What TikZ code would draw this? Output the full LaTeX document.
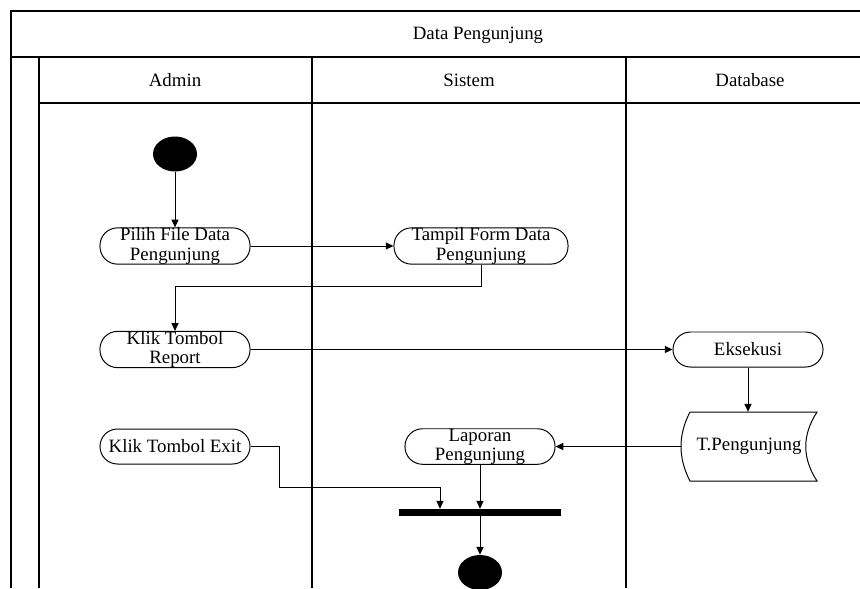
\documentclass[tikz,border=0pt]{standalone}
\usepackage{fontspec}
\setmainfont{Liberation Serif}
\usetikzlibrary{arrows.meta,shapes.geometric}
\tikzset{
    lbl/.style={font=\fontsize{13.4}{13.6}\selectfont, align=center},
    act/.style={lbl, draw, line width=0.7pt, rounded corners=0.4375cm,
        minimum width=3.75cm, minimum height=0.875cm, inner sep=0pt},
    blob/.style={ellipse, fill=black, minimum width=1.1cm, minimum height=0.875cm, inner sep=0pt},
    flow/.style={line width=0.7pt, -{Triangle[length=5.5pt,width=5pt]}},
    lane/.style={line width=1pt}
}
\begin{document}
\begin{tikzpicture}[x=0.025cm,y=-0.025cm]
        \useasboundingbox (0,0) rectangle (860,588);
        % Swimlane frame
        \draw[lane] (860,11) -- (11,11) -- (11,588);
        \draw[line width=2pt] (11,57) -- (860,57);
        \draw[lane] (39,103) -- (860,103);
        \foreach \x in {39,312,626}
        {
            \draw[lane] (\x,57) -- (\x,588);
        }
        \node[lbl] (title) at (478,35) {Data Pengunjung};
        \foreach \x/\lane in {175/Admin,469/Sistem,750/Database}
        {
            \node[lbl] (head\lane) at (\x,80) {\lane};
        }

        % Activities
        \node[blob] (start) at (175,154) {};
        \node[act] (pilih) at (175,246) {Pilih File Data\\Pengunjung};
        \node[act, minimum width=4.35cm] (tampil) at (481,246) {Tampil Form Data\\Pengunjung};
        \node[act] (report) at (175,349.5) {Klik Tombol\\Report};
        \node[act] (eksekusi) at (748,349.5) {Eksekusi};
        \node[act] (exit) at (175,446.5) {Klik Tombol Exit};
        \node[act] (laporan) at (480,446.5) {Laporan\\Pengunjung};
        \node[lbl, minimum width=3.4cm, minimum height=1.725cm, inner sep=0pt] (tabel) at (749,446.5) {T.Pengunjung};
        \draw[line width=0.7pt] (690,412) -- (817,412) .. controls (802,435) and (802,458) .. (817,481)
            -- (690,481) .. controls (678,458) and (678,435) .. (690,412);
        \node[fill=black, minimum width=4.05cm, minimum height=0.175cm, inner sep=0pt] (join) at (480,512.5) {};
        \node[blob] (stop) at (480,572.5) {};

        % Flow
        \draw[flow] (start) -- (pilih);
        \draw[flow] (pilih) -- (tampil);
        \draw[flow] (tampil.south) -- ++(0,22) -| (report.north);
        \draw[flow] (report) -- (eksekusi);
        \draw[flow] (eksekusi) -- (eksekusi |- tabel.north);
        \draw[flow] (tabel.west) -- (laporan.east);
        \draw[flow] (exit.east) -| (279,487) -| ([xshift=-1cm]join.north);
        \draw[flow] (laporan) -- (join);
        \draw[flow] (join) -- (stop);
    \end{tikzpicture}
\end{document}
